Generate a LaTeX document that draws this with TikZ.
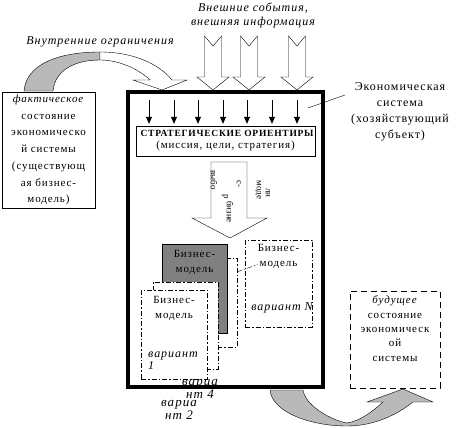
\documentclass[tikz,border=0pt]{standalone}
\usepackage{fontspec}
\setmainfont{Liberation Serif}
\newfontfamily\spaced[LetterSpace=8]{Liberation Serif}
\usetikzlibrary{positioning,arrows.meta}

\definecolor{lightgr}{RGB}{185,185,185}
\definecolor{darkgr}{RGB}{128,128,128}

\tikzset{
  txt/.style={font=\spaced\fontsize{11}{15}\selectfont, align=center, inner sep=0pt},
  itxt/.style={font=\spaced\fontsize{12}{12}\selectfont\itshape, align=center, inner sep=0pt},
  vtxt/.style={font=\fontsize{9}{9}\selectfont, rotate=-90, inner sep=0pt},
  card/.style={draw, fill=white, inner sep=0pt, dash pattern=on 5pt off 2pt on 1.5pt off 2pt},
  smallarr/.style={-{Triangle[length=7pt,width=6pt]}, thick, shorten >=2pt},
}

\begin{document}
\begin{tikzpicture}[x=1pt, y=-1pt]
    \useasboundingbox (0,0) rectangle (474,428);

    % Labels at the top
    \node[itxt] (inner) at (100,42) {Внутренние ограничения};
    \node[itxt, font=\spaced\fontsize{12}{14}\selectfont\itshape] (outer) at (253,15) {Внешние события,\\внешняя информация};
    \node[txt, font=\spaced\fontsize{12}{16}\selectfont] (econ) at (400,112) {Экономическая\\система\\(хозяйствующий\\субъект)};

    % Economic system
    \node[draw, line width=4pt, minimum width=195pt, minimum height=295pt, inner sep=0pt] (sys) at (225.5,239.5) {};
    \coordinate (ptr) at (308,108);
    \coordinate (ptrend) at (345,95);
    \draw (ptr) -- (ptrend);

    % External events
    \foreach \c in {213,249,297} {
        \draw[fill=white] (\c-8.5,36) -- (\c,46) -- (\c+8.5,36) -- (\c+8.5,77) -- (\c+16,77)
            -- (\c,90) -- (\c-16,77) -- (\c-8.5,77) -- cycle;
    }

    % Internal constraints
    \draw[fill=lightgr] (24,91) .. controls (26,66) and (55,52) .. (100,52) -- (100,60)
        .. controls (75,60) and (55,70) .. (53,91) -- cycle;
    \draw[fill=white] (100,52) .. controls (135,52) and (160,65) .. (172,80) -- (187,80) -- (162,90)
        -- (133,80) -- (150,80) .. controls (140,70) and (120,60) .. (100,60) -- cycle;

    % Current state
    \node[draw, minimum width=93pt, minimum height=116pt, txt, font=\spaced\fontsize{11}{16.7}\selectfont] (fact) at (48.5,150)
        {\textit{фактическое}\\состояние\\экономическо\\й системы\\(существующ\\ая бизнес-\\модель)};

    % Strategic orientations
    \node[draw, fill=white, minimum width=179pt, minimum height=30pt, inner sep=0pt, align=center] (strat) at (225.5,141)
        {{\spaced\fontsize{9.5}{14}\selectfont\bfseries\ СТРАТЕГИЧЕСКИЕ ОРИЕНТИРЫ}\\
         {\spaced\fontsize{11}{14}\selectfont (миссия, цели, стратегия)}};
    \foreach \x in {149,174,198,223,247,272,297} {
        \draw[smallarr] (\x,100) -- (\x,100 |- strat.north);
    }

    % Choice of the business model
    \draw (211,162) -- (247,162) -- (247,218) -- (267,218) -- (230,238) -- (192,218) -- (211,218) -- cycle;
    \node[vtxt] (w1) at (214,180) {выбо};
    \node[vtxt] (w2) at (225,197) {р};
    \node[vtxt] (w3) at (230,212) {бизне};
    \node[vtxt] (w4) at (239,184) {с-};
    \node[vtxt] (w5) at (258,190) {моде};
    \node[vtxt] (w6) at (268,193) {ли};

    % Business model variants
    \node[card, minimum width=62pt, minimum height=89pt] (bcard) at (206,302.5) {};
    \node[draw, fill=darkgr, inner sep=0pt, minimum width=65pt, minimum height=89pt] (gcard) at (194.5,288.5) {};
    \node[txt, below=6pt of gcard.north] (gtxt) {Бизнес-\\модель};
    \node[card, minimum width=65pt, minimum height=87pt] (card2) at (185.5,325.5) {};
    \node[card, minimum width=66pt, minimum height=89pt] (card1) at (174,334.5) {};
    \node[txt, below=6pt of card1.north] (txt1) {Бизнес-\\модель};
    \node[itxt, align=left, anchor=north west] (var1) at (148,352) {вариант\\1};
    \node[card, minimum width=67pt, minimum height=87pt] (cardN) at (278.5,283.5) {};
    \node[txt, below=4pt of cardN.north] (txtN) {Бизнес-\\модель};
    \node[itxt] (varN) at (282,308) {вариант N};
    \draw[dash pattern=on 5pt off 2pt on 1.5pt off 2pt] ([yshift=-14pt]bcard.north east) -- ([yshift=4pt]txtN.south west);
    \node[itxt, font=\spaced\fontsize{13}{11}\selectfont\itshape] (var4) at (200,389) {вариа\\нт 4};
    \node[itxt, font=\spaced\fontsize{13}{11}\selectfont\itshape] (var2) at (179,410) {вариа\\нт 2};

    % Future state
    \draw[fill=lightgr] (270,390) .. controls (272,412) and (310,426) .. (347,426)
        .. controls (375,426) and (398,414) .. (413,402) -- (433,402) -- (403,389) -- (367,402) -- (383,402)
        .. controls (372,412) and (360,421) .. (347,423) .. controls (330,420) and (305,405) .. (303,390) -- cycle;
    \node[draw, dash pattern=on 6pt off 4pt, minimum width=90pt, minimum height=97pt] (fut) at (395,339.5) {};
    \node[txt, font=\spaced\fontsize{11}{14.3}\selectfont, below=5pt of fut.north] (futtxt)
        {\textit{будущее}\\состояние\\экономическ\\ой\\системы};
\end{tikzpicture}
\end{document}
